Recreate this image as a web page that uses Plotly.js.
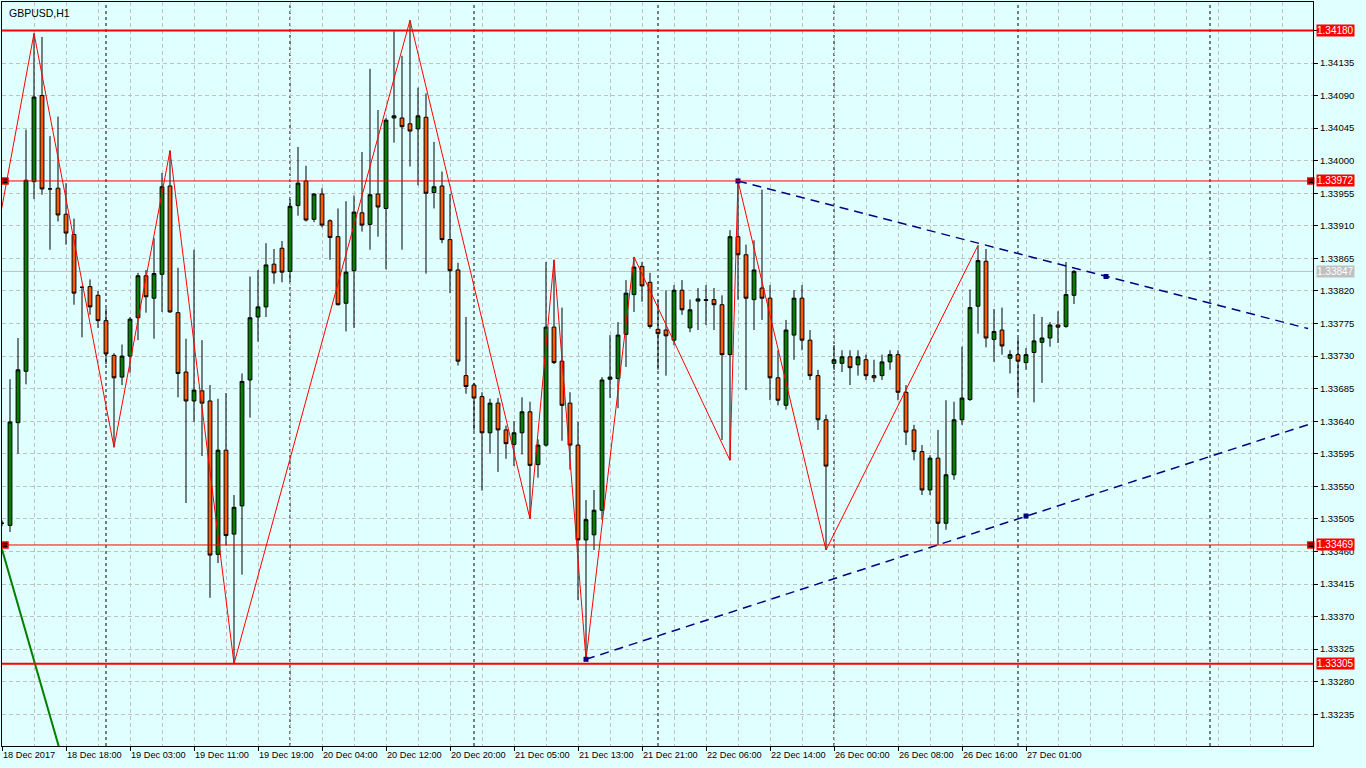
<!DOCTYPE html>
<html><head><meta charset="utf-8">
<script src="https://cdn.plot.ly/plotly-3.0.1.min.js"></script>
<style>html,body{margin:0;padding:0;background:#E0FFFF;overflow:hidden}#chart{width:1366px;height:768px}</style>
</head><body><div id="chart"></div>
<script>
// ---- Data (GBPUSD H1, bar index 0 = 18 Dec 2017 10:00) ----
const openPrices=[1.33499,1.33496,1.33638,1.33709,1.33971,1.34090,1.33961,1.33962,1.33926,1.33898,
1.33825,1.33826,1.33814,1.33779,1.33731,1.33701,1.33730,1.33783,1.33841,1.33810,
1.33843,1.33965,1.33790,1.33708,1.33668,1.33682,1.33668,1.33456,1.33600,1.33484,
1.33523,1.33697,1.33784,1.33798,1.33857,1.33879,1.33847,1.33938,1.33972,1.33919,
1.33954,1.33917,1.33895,1.33803,1.33848,1.33928,1.33912,1.33954,1.33934,1.34059,
1.34059,1.34051,1.34044,1.34060,1.33956,1.33965,1.33891,1.33849,1.33703,1.33690,
1.33674,1.33624,1.33665,1.33628,1.33608,1.33624,1.33653,1.33580,1.33607,1.33770,
1.33723,1.33665,1.33607,1.33476,1.33483,1.33517,1.33698,1.33699,1.33760,1.33815,
1.33854,1.33832,1.33767,1.33766,1.33752,1.33821,1.33769,1.33806,1.33808,1.33808,
1.33801,1.33732,1.33895,1.33870,1.33808,1.33824,1.33810,1.33700,1.33662,1.33759,
1.33810,1.33752,1.33703,1.33642,1.33720,1.33720,1.33729,1.33718,1.33725,1.33703,
1.33703,1.33722,1.33732,1.33680,1.33628,1.33598,1.33545,1.33589,1.33499,1.33566,
1.33642,1.33670,1.33799,1.33861,1.33753,1.33766,1.33727,1.33732,1.33721,1.33735,
1.33749,1.33755,1.33773,1.33771,1.33814];
const highPrices=[1.33503,1.33698,1.33755,1.34043,1.34176,1.34171,1.34034,1.34061,1.33969,1.33920,
1.33827,1.33836,1.33820,1.33796,1.33734,1.33746,1.33784,1.33845,1.33849,1.33893,
1.33983,1.34014,1.33852,1.33754,1.33877,1.33752,1.33690,1.33671,1.33679,1.33538,
1.33706,1.33840,1.33849,1.33886,1.33878,1.33889,1.33947,1.34019,1.33993,1.33955,
1.33962,1.33919,1.33934,1.33944,1.33952,1.34012,1.34127,1.34070,1.34059,1.34179,
1.34145,1.34194,1.34101,1.34093,1.34026,1.33985,1.33954,1.33859,1.33784,1.33693,
1.33680,1.33671,1.33672,1.33634,1.33640,1.33673,1.33667,1.33615,1.33860,1.33863,
1.33797,1.33680,1.33639,1.33531,1.33545,1.33701,1.33759,1.33777,1.33835,1.33867,
1.33860,1.33845,1.33807,1.33821,1.33828,1.33835,1.33808,1.33824,1.33828,1.33824,
1.33814,1.33904,1.33972,1.33884,1.33890,1.33960,1.33828,1.33738,1.33780,1.33821,
1.33828,1.33766,1.33711,1.33649,1.33745,1.33738,1.33738,1.33738,1.33732,1.33725,
1.33732,1.33738,1.33738,1.33690,1.33635,1.33607,1.33593,1.33628,1.33669,1.33667,
1.33743,1.33822,1.33883,1.33878,1.33795,1.33797,1.33738,1.33755,1.33741,1.33788,
1.33784,1.33777,1.33792,1.33860,1.33849];
const lowPrices=[1.33495,1.33487,1.33595,1.33691,1.33947,1.33953,1.33877,1.33916,1.33884,1.33801,
1.33756,1.33787,1.33769,1.33719,1.33604,1.33690,1.33707,1.33752,1.33790,1.33754,
1.33791,1.33790,1.33673,1.33527,1.33639,1.33592,1.33396,1.33444,1.33468,1.33305,
1.33428,1.33645,1.33750,1.33784,1.33830,1.33832,1.33833,1.33924,1.33916,1.33915,
1.33908,1.33863,1.33800,1.33764,1.33769,1.33902,1.33877,1.33895,1.33850,1.34025,
1.33877,1.33992,1.33966,1.33844,1.33934,1.33886,1.33817,1.33717,1.33678,1.33627,
1.33544,1.33595,1.33570,1.33588,1.33578,1.33594,1.33505,1.33562,1.33605,1.33719,
1.33613,1.33573,1.33393,1.33311,1.33462,1.33504,1.33672,1.33658,1.33715,1.33791,
1.33805,1.33768,1.33711,1.33703,1.33745,1.33787,1.33763,1.33766,1.33773,1.33766,
1.33614,1.33586,1.33808,1.33683,1.33766,1.33780,1.33669,1.33662,1.33656,1.33725,
1.33738,1.33697,1.33628,1.33462,1.33711,1.33708,1.33690,1.33703,1.33697,1.33694,
1.33697,1.33711,1.33669,1.33607,1.33586,1.33538,1.33538,1.33469,1.33490,1.33559,
1.33635,1.33668,1.33761,1.33742,1.33722,1.33732,1.33706,1.33676,1.33711,1.33666,
1.33693,1.33743,1.33748,1.33769,1.33802];
const closePrices=[1.33499,1.33639,1.33711,1.33973,1.34088,1.33961,1.33961,1.33925,1.33900,1.33817,
1.33825,1.33798,1.33779,1.33733,1.33700,1.33730,1.33781,1.33841,1.33812,1.33844,
1.33964,1.33791,1.33706,1.33668,1.33683,1.33665,1.33455,1.33600,1.33482,1.33521,
1.33695,1.33783,1.33798,1.33856,1.33845,1.33846,1.33937,1.33969,1.33918,1.33954,
1.33911,1.33894,1.33801,1.33846,1.33929,1.33911,1.33953,1.33936,1.34056,1.34062,
1.34047,1.34041,1.34062,1.33955,1.33964,1.33891,1.33848,1.33723,1.33688,1.33672,
1.33624,1.33665,1.33628,1.33609,1.33624,1.33653,1.33579,1.33607,1.33770,1.33721,
1.33662,1.33607,1.33476,1.33504,1.33517,1.33697,1.33701,1.33759,1.33817,1.33853,
1.33827,1.33771,1.33761,1.33758,1.33821,1.33794,1.33794,1.33809,1.33807,1.33801,
1.33732,1.33895,1.33870,1.33810,1.33849,1.33810,1.33700,1.33669,1.33766,1.33810,
1.33752,1.33703,1.33642,1.33578,1.33725,1.33729,1.33714,1.33729,1.33703,1.33700,
1.33722,1.33732,1.33680,1.33625,1.33598,1.33545,1.33589,1.33499,1.33566,1.33642,
1.33672,1.33797,1.33862,1.33755,1.33764,1.33744,1.33732,1.33723,1.33732,1.33751,
1.33755,1.33773,1.33770,1.33815,1.33847];

const tickBars=[0,8,16,24,32,40,48,56,64,72,80,88,96,104,112,120,128];
const tickLabels=['18 Dec 2017','18 Dec 18:00','19 Dec 03:00','19 Dec 11:00','19 Dec 19:00','20 Dec 04:00',
'20 Dec 12:00','20 Dec 20:00','21 Dec 05:00','21 Dec 13:00','21 Dec 21:00','22 Dec 06:00','22 Dec 14:00',
'26 Dec 00:00','26 Dec 08:00','26 Dec 16:00','27 Dec 01:00'];
const separatorBars=[13,36,59,82,104,127,151];

const zigzagBars=[-3,4,14,21,29,51,66,69,73,79,91,92,103,122];
const zigzagPrices=[1.33757,1.34176,1.33604,1.34014,1.33305,1.34194,1.33505,1.33863,1.33311,1.33867,1.33586,1.33972,1.33462,1.33883];

const upperTrendBars=[92,163.25];
const upperTrendPrices=[1.33972,1.33768];
const lowerTrendBars=[73,164];
const lowerTrendPrices=[1.33311,1.33638];
const trendPointBars=[92,73,128,138];
const trendPointPrices=[1.33972,1.33311,1.33509,1.33840];

const greenLineBars=[0,8];
const greenLinePrices=[1.33463,1.33156];

const levelPrices=[1.34180,1.33972,1.33469,1.33305];
const levelLabels=['1.34180','1.33972','1.33469','1.33305'];
const bidPrice=1.33847;
const bidLabel='1.33847';
const symbolTitle='GBPUSD,H1';

// ---- Chart ----
const FONT='Liberation Sans, Arial, sans-serif';
const barIdx=openPrices.map((_,i)=>i);
const lastBar=163.875;

const traces=[
 {type:'candlestick',x:barIdx,open:openPrices,high:highPrices,low:lowPrices,close:closePrices,
  increasing:{line:{color:'#000000',width:1},fillcolor:'#008000'},
  decreasing:{line:{color:'#000000',width:1},fillcolor:'#FF5A00'},
  whiskerwidth:0,hoverinfo:'skip'},
 {type:'scatter',mode:'lines',x:zigzagBars,y:zigzagPrices,line:{color:'#FF0000',width:1},hoverinfo:'skip'},
 {type:'scatter',mode:'lines',x:upperTrendBars,y:upperTrendPrices,line:{color:'#000080',width:1.5,dash:'9px,6px'},hoverinfo:'skip'},
 {type:'scatter',mode:'lines',x:lowerTrendBars,y:lowerTrendPrices,line:{color:'#000080',width:1.5,dash:'9px,6px'},hoverinfo:'skip'},
 {type:'scatter',mode:'markers',x:trendPointBars,y:trendPointPrices,marker:{symbol:'square',size:5,color:'#000080',line:{width:0}},hoverinfo:'skip'},
 {type:'scatter',mode:'lines',x:greenLineBars,y:greenLinePrices,line:{color:'#008000',width:2},hoverinfo:'skip'},
 {type:'scatter',mode:'markers',x:[0.375,163.6,0.375,163.6],y:[levelPrices[1],levelPrices[1],levelPrices[2],levelPrices[2]],
  marker:{symbol:'square',size:6,color:'#000000',line:{color:'#FF0000',width:1.5}},cliponaxis:false,hoverinfo:'skip'}
];

const shapes=[];
separatorBars.forEach(b=>shapes.push({type:'line',xref:'x',yref:'paper',x0:b,x1:b,y0:0,y1:1,layer:'below',
  line:{color:'#000000',width:1,dash:'3px,3px'}}));
shapes.push({type:'line',xref:'paper',yref:'y',x0:0,x1:1,y0:bidPrice,y1:bidPrice,layer:'below',line:{color:'#C0C0C0',width:1}});
levelPrices.forEach((p,i)=>shapes.push({type:'line',xref:'paper',yref:'y',x0:0,x1:1,y0:p,y1:p,layer:'above',
  line:{color:'#FF0000',width:(i===0||i===3)?2:1}}));

const annotations=[];
annotations.push({xref:'paper',yref:'paper',x:0,y:1,xanchor:'left',yanchor:'top',xshift:5,yshift:-3,
  text:symbolTitle,showarrow:false,font:{family:FONT,size:10.5,color:'#000000'}});
levelLabels.forEach((t,i)=>annotations.push({xref:'paper',yref:'y',x:1,y:levelPrices[i],xanchor:'left',yanchor:'middle',
  xshift:3,text:t,showarrow:false,bgcolor:'#FF0000',borderpad:0,font:{family:FONT,size:10,color:'#FFFFFF'}}));
annotations.push({xref:'paper',yref:'y',x:1,y:bidPrice,xanchor:'left',yanchor:'middle',xshift:3,text:bidLabel,
  showarrow:false,bgcolor:'#C0C0C0',borderpad:0,font:{family:FONT,size:10,color:'#FFFFFF'}});

const layout={
 width:1366,height:768,
 margin:{l:2,r:53,t:2,b:22,pad:0},
 paper_bgcolor:'#E0FFFF',plot_bgcolor:'#E0FFFF',
 showlegend:false,hovermode:false,boxgap:0.32,
 font:{family:FONT,size:10,color:'#000000'},
 xaxis:{type:'linear',range:[0,lastBar],rangeslider:{visible:false},
  tickmode:'array',tickvals:tickBars,ticktext:tickLabels,ticklabelposition:'outside right',tickangle:0,
  ticks:'outside',ticklen:4,tickcolor:'#000000',tickfont:{family:FONT,size:9.2,color:'#000000'},
  showgrid:true,gridcolor:'#C0C0C0',griddash:'4px,3px',gridwidth:1,
  minor:{tickmode:'linear',tick0:0,dtick:4,showgrid:true,gridcolor:'#C0C0C0',griddash:'4px,3px',ticks:''},
  showline:true,linecolor:'#000000',linewidth:1,mirror:true,zeroline:false,fixedrange:true},
 yaxis:{side:'right',range:[1.331912,1.342193],tickmode:'linear',tick0:1.33235,dtick:0.00045,tickformat:'.5f',
  ticks:'outside',ticklen:4,tickcolor:'#000000',tickfont:{family:FONT,size:9.5,color:'#000000'},
  showgrid:true,gridcolor:'#C0C0C0',griddash:'4px,3px',gridwidth:1,
  showline:true,linecolor:'#000000',linewidth:1,mirror:true,zeroline:false,fixedrange:true},
 shapes:shapes,annotations:annotations
};
Plotly.newPlot('chart',traces,layout,{displayModeBar:false,staticPlot:true});
</script></body></html>
